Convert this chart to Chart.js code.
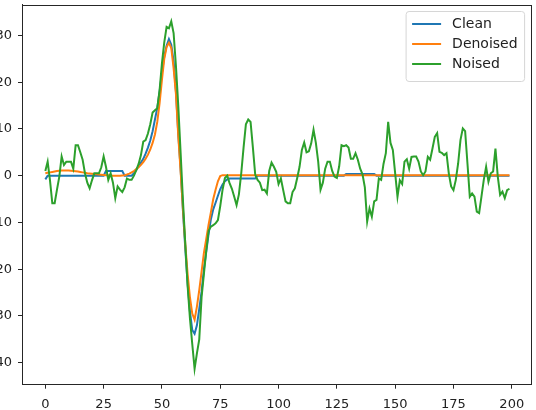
<!DOCTYPE html>
<html>
<head>
<meta charset="utf-8">
<script src="https://cdn.jsdelivr.net/npm/chart.js@4/dist/chart.umd.min.js"></script>
<style>
  html, body { margin: 0; padding: 0; background: #ffffff; overflow: hidden; }
  canvas { display: block; }
</style>
</head>
<body>
<canvas id="chart" width="536" height="410"></canvas>
<script>
// Sample index (x) for each point of the three signals
const steps = [];
for (let i = 0; i < 200; i++) steps.push(i);

const seriesNames = ['Clean', 'Denoised', 'Noised'];
const seriesColors = ['#1f77b4', '#ff7f0e', '#2ca02c'];

// Clean reference signal
const clean = [
  -0.8, 0, 0, 0, 0, 0, 0, 0, 0, 0,
  0, 0, 0, 0, 0, 0, 0, 0, 0, 0,
  0, 0, 0, 0, 0, 0, 1.0, 1.0, 1.0, 1.0,
  1.0, 1.0, 1.0, 1.0, 0, 0, 0, 0, 0.5, 1.2,
  2.0, 2.8, 3.6, 4.7, 6.0, 7.5, 9.5, 12, 14.5, 18,
  22, 25.5, 27.8, 29.2, 28.0, 24.5, 18, 9, 1.5, -7.5,
  -15.5, -23, -29, -33, -33.8, -32, -28.5, -24.8, -20, -16.3,
  -12.5, -9.3, -7.2, -5.8, -4.3, -2.9, -1.9, -1.2, -0.8, -0.6,
  -0.6, -0.6, -0.6, -0.6, -0.6, -0.6, -0.6, -0.6, -0.6, -0.6,
  -0.6, 0, 0, 0, 0, 0, 0, 0, 0, 0,
  0, 0, 0, 0, 0, 0, 0, 0, 0, 0,
  0, 0, 0, 0, 0, 0, 0, 0, 0, 0,
  0, 0, 0, 0, 0, 0, 0, 0, 0, 0.35,
  0.35, 0.35, 0.35, 0.35, 0.35, 0.35, 0.35, 0.35, 0.35, 0.35,
  0.35, 0.35, 0, 0, 0, 0, 0, 0, 0, 0,
  0, 0, 0, 0, 0, 0, 0, 0, 0, 0,
  0, 0, 0, 0, 0, 0, 0, 0, 0, 0,
  0, 0, 0, 0, 0, 0, 0, 0, 0, 0,
  0, 0, 0, 0, 0, 0, 0, 0, 0, 0,
  0, 0, 0, 0, 0, 0, 0, 0, 0, 0
];

// Output of the denoiser
const denoised = [
  0.5, 0.6, 0.7, 0.8, 0.9, 1.0, 1.05, 1.1, 1.1, 1.1,
  1.1, 1.05, 1.0, 0.95, 0.9, 0.8, 0.7, 0.6, 0.5, 0.45,
  0.4, 0.35, 0.3, 0.25, 0.2, 0.15, 0.1, 0.1, 0.05, 0,
  0, 0, 0, 0.05, 0.1, 0.25, 0.45, 0.7, 1.0, 1.4,
  1.8, 2.3, 2.9, 3.6, 4.5, 5.6, 7.0, 8.8, 11.5, 15.5,
  20.5, 25, 27.5, 28.4, 27.3, 23, 17.5, 8.5, 1, -7,
  -14.5, -21, -26, -29.5, -30.8, -28, -24.5, -20.5, -16.5, -13.5,
  -10.5, -7.8, -5.0, -3.0, -1.2, -0.1, 0.1, 0.1, 0.1, 0.1,
  0.1, 0.1, 0.1, 0.1, 0.1, 0.1, 0.1, 0.1, 0.1, 0.1,
  0.1, 0.1, 0.1, 0.1, 0.1, 0.1, 0.1, 0.1, 0.1, 0.1,
  0.1, 0.1, 0.1, 0.1, 0.1, 0.1, 0.1, 0.1, 0.1, 0.1,
  0.1, 0.1, 0.1, 0.1, 0.1, 0.1, 0.1, 0.1, 0.1, 0.1,
  0.1, 0.1, 0.1, 0.1, 0.1, 0.1, 0.1, 0.1, 0.1, 0.1,
  0.1, 0.1, 0.1, 0.1, 0.1, 0.1, 0.1, 0.1, 0.1, 0.1,
  0.1, 0.1, 0.1, 0.1, 0.1, 0.1, 0.1, 0.1, 0.1, 0.1,
  0.1, 0.1, 0.1, 0.1, 0.1, 0.1, 0.1, 0.1, 0.1, 0.1,
  0.1, 0.1, 0.1, 0.1, 0.1, 0.1, 0.1, 0.1, 0.1, 0.1,
  0.1, 0.1, 0.1, 0.1, 0.1, 0.1, 0.1, 0.1, 0.1, 0.1,
  0.1, 0.1, 0.1, 0.1, 0.1, 0.1, 0.1, 0.1, 0.1, 0.1,
  0.1, 0.1, 0.1, 0.1, 0.1, 0.1, 0.1, 0.1, 0.1, 0.1
];

// Noisy input signal
const noised = [
  1.0, 3.0, -1.0, -5.9, -5.9, -3.0, -0.2, 4.1, 2.3, 3.0,
  3.0, 3.0, 1.5, 6.5, 6.5, 5.0, 3.4, 0.5, -1.5, -2.7,
  -1.0, 0.5, 0.5, 0.5, 1.8, 4.1, 1.9, -0.9, 0.5, -1.5,
  -4.8, -2.3, -3.0, -3.5, -2.5, -0.6, -0.9, -0.9, 0.0, 1.2,
  2.5, 4.4, 7.3, 7.6, 9.0, 11.0, 13.5, 14.0, 14.4, 18.3,
  24.0, 28.5, 31.8, 31.5, 33.0, 30.5, 23.5, 15.0, 5.0, -5.2,
  -14.5, -23.5, -30.5, -36.0, -41.3, -38.0, -35.0, -26.0, -21.0, -16.0,
  -11.8, -10.9, -10.6, -10.2, -9.5, -6.5, -3.0, -0.5, 0.0, -1.6,
  -2.8, -4.5, -6.3, -4.0, 0.5, 6.0, 11.0, 12.0, 11.5, 6.0,
  0.2, -0.9, -1.5, -3.1, -3.0, -3.8, 1.0, 2.8, 1.9, 0.8,
  -1.8, -0.6, -3.1, -5.5, -5.9, -5.9, -3.5, -2.7, -0.5, 1.9,
  5.5, 7.1, 5.0, 5.2, 6.9, 9.8, 7.0, 3.0, -3.0, -1.5,
  1.5, 3.0, 3.0, 1.0, -0.2, -0.5, 2.0, 6.5, 6.3, 6.5,
  6.0, 3.6, 3.6, 4.8, 3.4, 1.5, 0.3, -2.5, -9.8, -7.0,
  -8.8, -5.5, -5.2, -0.6, -0.9, 2.5, 4.8, 11.5, 7.0, 5.5,
  0.5, -4.5, -1.0, -1.8, 3.0, 3.5, 1.5, 4.0, 4.1, 4.1,
  3.0, 0.9, 0.1, 0.9, 4.0, 3.4, 5.8, 8.3, 9.1, 5.1,
  4.9, 4.4, 4.8, 0.5, -2.3, -3.1, -0.9, 2.6, 7.6, 10.1,
  9.5, 2.6, -4.5, -3.8, -4.5, -7.7, -8.0, -4.5, -0.9, 1.9,
  -1.3, 0.5, 0.9, 5.8, -0.2, -4.1, -3.4, -4.8, -3.1, -2.8
];

// Axis tick values
const xTicks = [0, 25, 50, 75, 100, 125, 150, 175, 200];
const yTicks = [-40, -30, -20, -10, 0, 10, 20, 30];

const FONT = "'DejaVu Sans', 'Liberation Sans', sans-serif";
const AXIS_COLOR = '#262626';

// Box around the whole plotting area (all four spines)
const framePlugin = {
  id: 'frame',
  afterDatasetsDraw(chart) {
    const { ctx, chartArea: a } = chart;
    ctx.save();
    ctx.strokeStyle = AXIS_COLOR;
    ctx.lineWidth = 1;
    ctx.strokeRect(Math.round(a.left) + 0.5, Math.round(a.top) + 0.5,
                   Math.round(a.right - a.left) - 1, Math.round(a.bottom - a.top) - 1);
    ctx.restore();
  }
};

// Legend drawn inside the upper-right corner of the plot area
const innerLegend = {
  id: 'innerLegend',
  afterDraw(chart) {
    const { ctx, chartArea: a } = chart;
    const ds = chart.data.datasets;
    const boxW = 118.5, boxH = 70, pad = 7;
    const x0 = a.right - pad - boxW, y0 = a.top + pad;
    ctx.save();
    ctx.beginPath();
    if (ctx.roundRect) ctx.roundRect(x0, y0, boxW, boxH, 3);
    else ctx.rect(x0, y0, boxW, boxH);
    ctx.fillStyle = 'rgba(255,255,255,0.85)';
    ctx.fill();
    ctx.strokeStyle = '#d6d6d6';
    ctx.lineWidth = 1;
    ctx.stroke();
    ctx.font = '14px ' + FONT;
    ctx.textBaseline = 'middle';
    ctx.textAlign = 'left';
    ds.forEach((d, i) => {
      const yy = y0 + 12.5 + i * 20;
      ctx.strokeStyle = d.borderColor;
      ctx.lineWidth = 2;
      ctx.beginPath();
      ctx.moveTo(x0 + 6, yy);
      ctx.lineTo(x0 + 35, yy);
      ctx.stroke();
      ctx.fillStyle = '#222222';
      ctx.fillText(d.label, x0 + 46, yy + 0.5);
    });
    ctx.restore();
  }
};

const datasets = [clean, denoised, noised].map((vals, k) => ({
  label: seriesNames[k],
  data: vals,
  borderColor: seriesColors[k],
  backgroundColor: seriesColors[k],
  borderWidth: 2,
  pointRadius: 0,
  tension: 0,
  fill: false,
  order: 3 - k
}));

const tickStyle = { font: { family: FONT, size: 13 }, color: '#222222' };

new Chart(document.getElementById('chart'), {
  type: 'line',
  data: { labels: steps, datasets },
  options: {
    responsive: false,
    animation: false,
    devicePixelRatio: 1,
    layout: { padding: { top: 4.5, right: 4.4, left: 0, bottom: 0 } },
    plugins: { legend: { display: false }, tooltip: { enabled: false } },
    scales: {
      x: {
        type: 'linear',
        min: -10,
        max: 208.5,
        afterBuildTicks: s => { s.ticks = xTicks.map(v => ({ value: v })); },
        afterFit: s => { s.height = 25.3; s.paddingLeft = 0; s.paddingRight = 0; },
        grid: { drawOnChartArea: false, drawTicks: true, tickLength: 4, tickColor: AXIS_COLOR },
        border: { display: true, color: AXIS_COLOR, width: 1 },
        ticks: Object.assign({ padding: 8, maxRotation: 0, autoSkip: false,
                               callback: v => String(v) }, tickStyle)
      },
      y: {
        type: 'linear',
        min: -44.7,
        max: 36.6,
        afterBuildTicks: s => { s.ticks = yTicks.map(v => ({ value: v })); },
        afterFit: s => { s.width = 22; s.paddingTop = 0; s.paddingBottom = 0; },
        grid: { drawOnChartArea: false, drawTicks: true, tickLength: 4, tickColor: AXIS_COLOR },
        border: { display: true, color: AXIS_COLOR, width: 1 },
        ticks: Object.assign({ padding: 6, autoSkip: false,
                               callback: v => (v < 0 ? '\u2212' + Math.abs(v) : String(v)) }, tickStyle)
      }
    }
  },
  plugins: [framePlugin, innerLegend]
});
</script>
</body>
</html>
